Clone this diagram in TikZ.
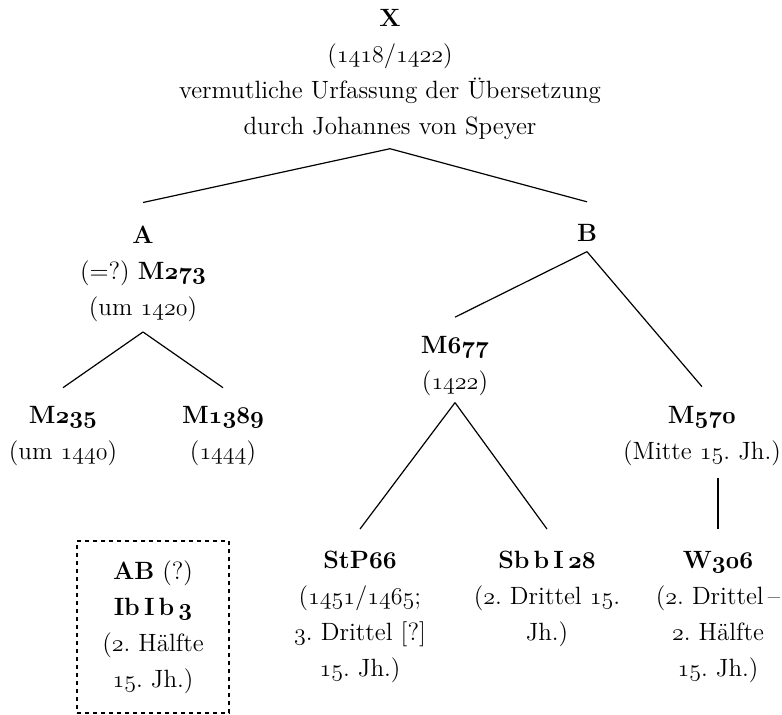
\documentclass[tikz,border=0pt]{standalone}
\newcommand{\os}[1]{{\usefont{OML}{cmm}{m}{it}#1}}
\newcommand{\osb}[1]{{\usefont{OML}{cmm}{b}{it}#1}}
\tikzset{
  ms/.style={align=center, inner sep=0pt, font=\fontsize{12.5}{18}\selectfont\frenchspacing},
  lostbox/.style={draw, line width=1pt, dash pattern=on 2pt off 2pt},
}
\begin{document}
\begin{tikzpicture}[x=0.5pt, y=-0.5pt, line width=0.6pt]
  \useasboundingbox (0,0) rectangle (782,715);
  % archetype
  \node[ms] (X) at (390,74) {\textbf{X}\\(\os{1418}/\os{1422})\\vermutliche Urfassung der Übersetzung\\durch Johannes von Speyer};
  % hyparchetypes
  \node[ms] (A) at (143,274) {\textbf{A}\\(=?) \textbf{M\osb{273}}\\(um \os{1420})};
  \node[ms] (B) at (587,233) {\textbf{B}};
  \node[ms] (M235) at (63,436) {\textbf{M\osb{235}}\\(um \os{1440})};
  \node[ms] (M1389) at (223,436) {\textbf{M\osb{1389}}\\(\os{1444})};
  \node[ms] (M677) at (455,366) {\textbf{M\osb{677}}\\(\os{1422})};
  \node[ms] (M570) at (702,436) {\textbf{M\osb{570}}\\(Mitte \os{15}. Jh.)};
  \node[ms] (StP66) at (360,617) {\textbf{StP\osb{66}}\\(\os{1451}/\os{1465};\\\os{3}. Drittel [?]\\\os{15}. Jh.)};
  \node[ms] (SbbI28) at (547,599) {\textbf{Sb\,b\,I\,\osb{28}}\\(\os{2}. Drittel \os{15}.\\Jh.)};
  \node[ms] (W306) at (718,617) {\textbf{W\osb{306}}\\(\os{2}. Drittel\,--\\\os{2}. Hälfte\\\os{15}. Jh.)};
  % not placed in the stemma
  \node[ms, lostbox, minimum width=76pt, minimum height=86pt] (AB) at (153,627) {\textbf{AB} (?)\\\textbf{Ib\,I\,b\,\osb{3}}\\(\os{2}. Hälfte\\\os{15}. Jh.)};
  \draw ([yshift=-4.5pt]X.south) -- ([yshift=11.5pt]A.north);
  \draw ([yshift=-4.5pt]X.south) -- ([yshift=11pt]B.north);
  \draw ([yshift=-4.75pt]A.south) -- ([yshift=9pt]M235.north);
  \draw ([yshift=-4.75pt]A.south) -- ([yshift=9pt]M1389.north);
  \draw ([yshift=-4.75pt]B.south) -- ([yshift=9.25pt]M677.north);
  \draw ([yshift=-4.75pt]B.south) -- ([yshift=9.5pt]M570.north);
  \draw ([yshift=-3.15pt]M677.south) -- ([yshift=10.75pt]StP66.north);
  \draw ([yshift=-3.15pt]M677.south) -- ([yshift=10.75pt]SbbI28.north);
  \draw[line width=1.2pt] ([yshift=10.75pt]W306.north) -- ([yshift=-5.65pt]W306.north |- M570.south);
\end{tikzpicture}
\end{document}
